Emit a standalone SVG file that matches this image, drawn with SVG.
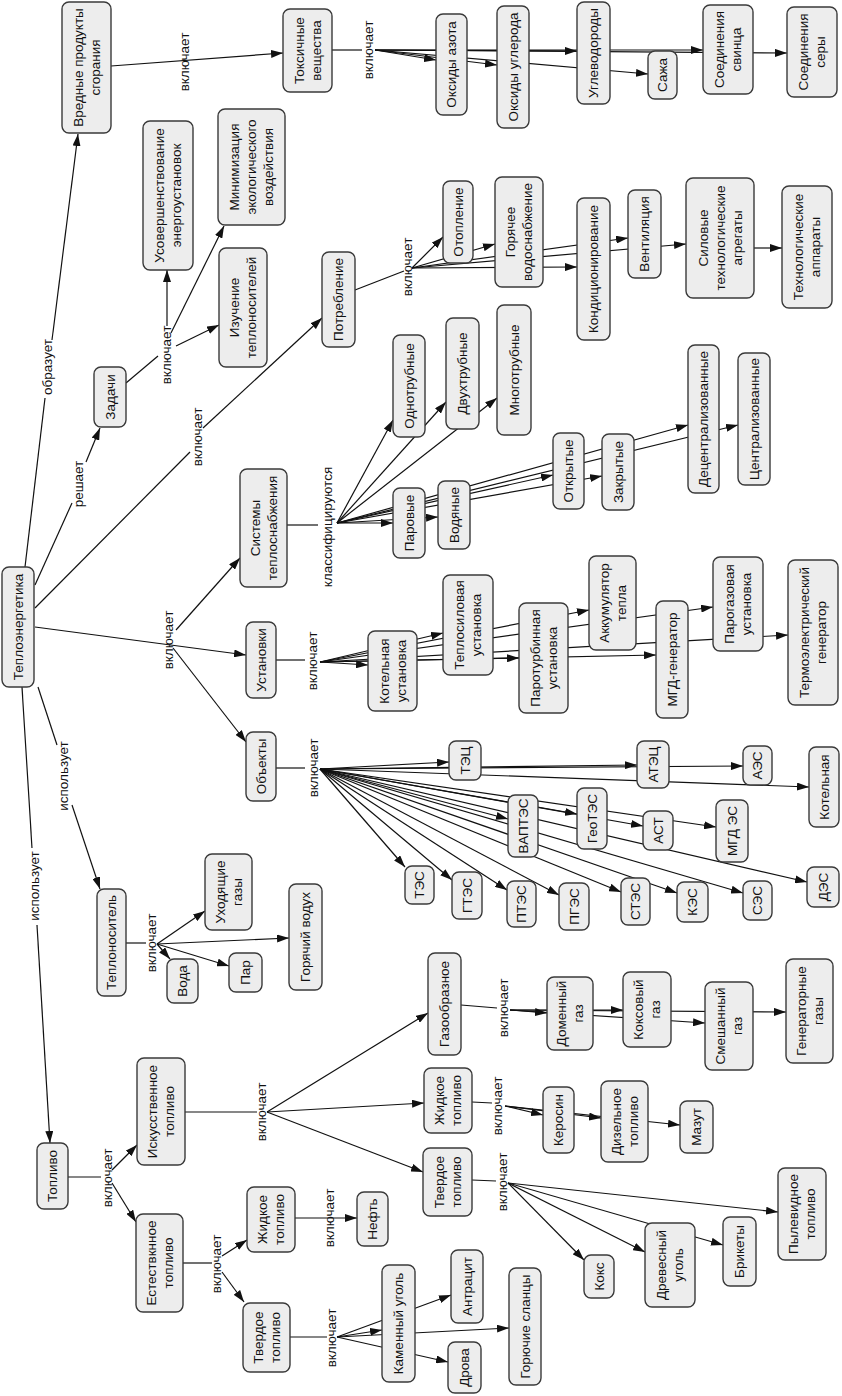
<svg xmlns="http://www.w3.org/2000/svg" width="842" height="1396" viewBox="0 0 842 1396">
<style>
.n rect{fill:#ededed;stroke:#3a3a3a;stroke-width:1.4}
text{font-family:"Liberation Sans",Arial,sans-serif;font-size:13.5px;text-anchor:middle;fill:#111}
.c path{fill:none;stroke:#111;stroke-width:1.2}
.c path.a{marker-end:url(#ah)}
</style>
<defs>
<marker id="ah" markerWidth="12" markerHeight="8" refX="12" refY="4" orient="auto" markerUnits="userSpaceOnUse"><path d="M0,0 L12,4 L0,8 z" fill="#111"/></marker>
</defs>
<rect width="842" height="1396" fill="#fff"/>
<g id="connectors" class="c">
<path class="a" d="M111,66 L283,53"/>
<path d="M25,567 L45,398"/><path class="a" d="M52,340 L78,134"/>
<path d="M35,585 L72,503"/><path class="a" d="M86,462 L100,428"/>
<path d="M126,383 L158,356"/>
<path class="a" d="M167,326 L167,270"/>
<path class="a" d="M171,333 L224,226"/>
<path class="a" d="M176,346 L219,325"/>
<path d="M35,608 L190,452"/><path class="a" d="M203,428 L322,318"/>
<path d="M355,290 L404,271"/>
<path class="a" d="M412,268 L443,237"/>
<path class="a" d="M412,268 L495,244"/>
<path class="a" d="M412,268 L577,267"/>
<path class="a" d="M412,268 L628,238"/>
<path class="a" d="M412,268 L686,244"/>
<path class="a" d="M754,248 L782,248"/>
<path class="a" d="M35,627 L246,655"/>
<path class="a" d="M176,630 L240,558"/>
<path class="a" d="M173,648 L246,742"/>
<path d="M287,525 L318,525"/>
<path class="a" d="M337,523 L393,420"/>
<path class="a" d="M337,523 L446,402"/>
<path class="a" d="M337,523 L497,398"/>
<path class="a" d="M337,523 L393,523"/>
<path class="a" d="M337,523 L438,517"/>
<path class="a" d="M337,523 L553,475"/>
<path class="a" d="M337,523 L602,476"/>
<path class="a" d="M337,523 L688,425"/>
<path class="a" d="M337,523 L738,425"/>
<path d="M276,660 L305,660"/>
<path class="a" d="M320,662 L368,665"/>
<path class="a" d="M320,662 L443,633"/>
<path class="a" d="M320,662 L519,658"/>
<path class="a" d="M320,662 L589,610"/>
<path class="a" d="M320,662 L656,655"/>
<path class="a" d="M320,662 L713,607"/>
<path class="a" d="M320,662 L788,635"/>
<path d="M276,768 L305,768"/>
<path class="a" d="M320,769 L449,762"/>
<path class="a" d="M320,769 L637,765"/>
<path class="a" d="M320,769 L743,766"/>
<path class="a" d="M320,769 L809,787"/>
<path class="a" d="M320,769 L508,819"/>
<path class="a" d="M320,769 L577,814"/>
<path class="a" d="M320,769 L643,826"/>
<path class="a" d="M320,769 L716,827"/>
<path class="a" d="M320,769 L807,882"/>
<path class="a" d="M320,769 L405,867"/>
<path class="a" d="M320,769 L452,880"/>
<path class="a" d="M320,769 L507,890"/>
<path class="a" d="M320,769 L559,895"/>
<path class="a" d="M320,769 L621,892"/>
<path class="a" d="M320,769 L677,893"/>
<path class="a" d="M320,769 L743,893"/>
<path d="M38,687 L57,745"/><path class="a" d="M72,805 L100,889"/>
<path d="M22,687 L32,848"/><path class="a" d="M37,925 L50,1143"/>
<path d="M126,943 L146,943"/>
<path class="a" d="M157,944 L205,911"/>
<path class="a" d="M157,944 L289,938"/>
<path class="a" d="M157,944 L170,959"/>
<path class="a" d="M157,944 L229,966"/>
<path d="M68,1177 L101,1177"/>
<path class="a" d="M112,1170 L137,1145"/>
<path class="a" d="M112,1183 L136,1222"/>
<path d="M183,1263 L212,1263"/>
<path class="a" d="M222,1256 L247,1240"/>
<path class="a" d="M222,1272 L244,1302"/>
<path class="a" d="M295,1218 L357,1218"/>
<path d="M290,1337 L327,1337"/>
<path class="a" d="M337,1337 L382,1330"/>
<path class="a" d="M337,1337 L451,1295"/>
<path class="a" d="M337,1337 L509,1328"/>
<path class="a" d="M337,1337 L448,1362"/>
<path d="M185,1112 L257,1112"/>
<path class="a" d="M267,1112 L428,1013"/>
<path class="a" d="M267,1112 L424,1103"/>
<path class="a" d="M267,1112 L423,1172"/>
<path d="M461,1005 L497,1008"/>
<path class="a" d="M510,1010 L547,1013"/>
<path class="a" d="M510,1010 L623,1010"/>
<path class="a" d="M510,1010 L705,1023"/>
<path class="a" d="M510,1010 L786,1012"/>
<path d="M472,1102 L492,1103"/>
<path class="a" d="M505,1106 L543,1115"/>
<path class="a" d="M505,1106 L601,1118"/>
<path class="a" d="M505,1106 L680,1125"/>
<path d="M472,1180 L496,1181"/>
<path class="a" d="M508,1183 L584,1260"/>
<path class="a" d="M508,1183 L645,1252"/>
<path class="a" d="M508,1183 L723,1245"/>
<path class="a" d="M508,1183 L778,1212"/>
<path d="M332,50 L362,50"/>
<path class="a" d="M375,50 L436,60"/>
<path class="a" d="M375,50 L497,65"/>
<path class="a" d="M375,50 L577,51"/>
<path class="a" d="M375,50 L648,74"/>
<path class="a" d="M375,50 L703,50"/>
<path class="a" d="M375,50 L787,53"/>
</g>
<g id="labels">
<text transform="translate(184,62) rotate(-90)" y="4.7">включает</text>
<text transform="translate(47,367) rotate(-90)" y="4.7">образует</text>
<text transform="translate(78,484) rotate(-90)" y="4.7">решает</text>
<text transform="translate(166,355) rotate(-90)" y="4.7">включает</text>
<text transform="translate(197,437) rotate(-90)" y="4.7">включает</text>
<text transform="translate(407,267) rotate(-90)" y="4.7">включает</text>
<text transform="translate(168,640) rotate(-90)" y="4.7">включает</text>
<text transform="translate(327,527) rotate(-90)" y="4.7">классифицируются</text>
<text transform="translate(312,661) rotate(-90)" y="4.7">включает</text>
<text transform="translate(313,768) rotate(-90)" y="4.7">включает</text>
<text transform="translate(63,776) rotate(-90)" y="4.7">использует</text>
<text transform="translate(34,886) rotate(-90)" y="4.7">использует</text>
<text transform="translate(151,943) rotate(-90)" y="4.7">включает</text>
<text transform="translate(107,1178) rotate(-90)" y="4.7">включает</text>
<text transform="translate(216,1264) rotate(-90)" y="4.7">включает</text>
<text transform="translate(329,1218) rotate(-90)" y="4.7">включает</text>
<text transform="translate(331,1338) rotate(-90)" y="4.7">включает</text>
<text transform="translate(261,1112) rotate(-90)" y="4.7">включает</text>
<text transform="translate(503,1008) rotate(-90)" y="4.7">включает</text>
<text transform="translate(497,1106) rotate(-90)" y="4.7">включает</text>
<text transform="translate(502,1182) rotate(-90)" y="4.7">включает</text>
<text transform="translate(368,50) rotate(-90)" y="4.7">включает</text>
</g>
<g id="n_vred" class="n"><rect x="62" y="2" width="49" height="131" rx="7"/><text transform="translate(86.5,67.5) rotate(-90)"><tspan x="0" y="-3.8">Вредные продукты</tspan><tspan x="0" y="13.2">сгорания</tspan></text></g>
<g id="n_toks" class="n"><rect x="283" y="9" width="49" height="83" rx="7"/><text transform="translate(307.5,50.5) rotate(-90)"><tspan x="0" y="-3.8">Токсичные</tspan><tspan x="0" y="13.2">вещества</tspan></text></g>
<g id="n_azot" class="n"><rect x="436" y="14" width="31" height="101" rx="7"/><text transform="translate(451.5,64.5) rotate(-90)" y="4.7">Оксиды азота</text></g>
<g id="n_ugl" class="n"><rect x="497" y="6" width="32" height="122" rx="7"/><text transform="translate(513,67) rotate(-90)" y="4.7">Оксиды углерода</text></g>
<g id="n_uglev" class="n"><rect x="577" y="2" width="33" height="102" rx="7"/><text transform="translate(593.5,53) rotate(-90)" y="4.7">Углеводороды</text></g>
<g id="n_saja" class="n"><rect x="648" y="51" width="29" height="48" rx="7"/><text transform="translate(662.5,75) rotate(-90)" y="4.7">Сажа</text></g>
<g id="n_svin" class="n"><rect x="703" y="5" width="50" height="89" rx="7"/><text transform="translate(728,49.5) rotate(-90)"><tspan x="0" y="-3.8">Соединения</tspan><tspan x="0" y="13.2">свинца</tspan></text></g>
<g id="n_sera" class="n"><rect x="787" y="7" width="50" height="90" rx="7"/><text transform="translate(812,52) rotate(-90)"><tspan x="0" y="-3.8">Соединения</tspan><tspan x="0" y="13.2">серы</tspan></text></g>
<g id="n_usov" class="n"><rect x="143" y="121" width="50" height="149" rx="7"/><text transform="translate(168,195.5) rotate(-90)"><tspan x="0" y="-3.8">Усовершенствование</tspan><tspan x="0" y="13.2">энергоустановок</tspan></text></g>
<g id="n_minim" class="n"><rect x="218" y="109" width="67" height="116" rx="7"/><text transform="translate(251.5,167) rotate(-90)"><tspan x="0" y="-12.3">Минимизация</tspan><tspan x="0" y="4.7">экологического</tspan><tspan x="0" y="21.7">воздействия</tspan></text></g>
<g id="n_izuch" class="n"><rect x="219" y="248" width="48" height="119" rx="7"/><text transform="translate(243,307.5) rotate(-90)"><tspan x="0" y="-3.8">Изучение</tspan><tspan x="0" y="13.2">теплоносителей</tspan></text></g>
<g id="n_zad" class="n"><rect x="94" y="367" width="32" height="60" rx="7"/><text transform="translate(110,397) rotate(-90)" y="4.7">Задачи</text></g>
<g id="n_te" class="n"><rect x="2" y="567" width="32" height="120" rx="7"/><text transform="translate(18,627) rotate(-90)" y="4.7">Теплоэнергетика</text></g>
<g id="n_potr" class="n"><rect x="322" y="252" width="33" height="95" rx="7"/><text transform="translate(338.5,299.5) rotate(-90)" y="4.7">Потребление</text></g>
<g id="n_otop" class="n"><rect x="443" y="181" width="30" height="82" rx="7"/><text transform="translate(458,222) rotate(-90)" y="4.7">Отопление</text></g>
<g id="n_gvs" class="n"><rect x="495" y="177" width="48" height="110" rx="7"/><text transform="translate(519,232) rotate(-90)"><tspan x="0" y="-3.8">Горячее</tspan><tspan x="0" y="13.2">водоснабжение</tspan></text></g>
<g id="n_kond" class="n"><rect x="577" y="198" width="33" height="142" rx="7"/><text transform="translate(593.5,269) rotate(-90)" y="4.7">Кондиционирование</text></g>
<g id="n_vent" class="n"><rect x="628" y="190" width="33" height="88" rx="7"/><text transform="translate(644.5,234) rotate(-90)" y="4.7">Вентиляция</text></g>
<g id="n_silov" class="n"><rect x="686" y="178" width="68" height="120" rx="7"/><text transform="translate(720,238) rotate(-90)"><tspan x="0" y="-12.3">Силовые</tspan><tspan x="0" y="4.7">технологические</tspan><tspan x="0" y="21.7">агрегаты</tspan></text></g>
<g id="n_tehap" class="n"><rect x="782" y="186" width="50" height="122" rx="7"/><text transform="translate(807,247) rotate(-90)"><tspan x="0" y="-3.8">Технологические</tspan><tspan x="0" y="13.2">аппараты</tspan></text></g>
<g id="n_sist" class="n"><rect x="240" y="469" width="47" height="118" rx="7"/><text transform="translate(263.5,528) rotate(-90)"><tspan x="0" y="-3.8">Системы</tspan><tspan x="0" y="13.2">теплоснабжения</tspan></text></g>
<g id="n_ust" class="n"><rect x="246" y="622" width="30" height="76" rx="7"/><text transform="translate(261,660) rotate(-90)" y="4.7">Установки</text></g>
<g id="n_odno" class="n"><rect x="393" y="335" width="32" height="102" rx="7"/><text transform="translate(409,386) rotate(-90)" y="4.7">Однотрубные</text></g>
<g id="n_dvuh" class="n"><rect x="446" y="318" width="33" height="111" rx="7"/><text transform="translate(462.5,373.5) rotate(-90)" y="4.7">Двухтрубные</text></g>
<g id="n_mnogo" class="n"><rect x="497" y="305" width="34" height="130" rx="7"/><text transform="translate(514,370) rotate(-90)" y="4.7">Многотрубные</text></g>
<g id="n_parovye" class="n"><rect x="393" y="488" width="32" height="70" rx="7"/><text transform="translate(409,523) rotate(-90)" y="4.7">Паровые</text></g>
<g id="n_vodyan" class="n"><rect x="438" y="481" width="32" height="68" rx="7"/><text transform="translate(454,515) rotate(-90)" y="4.7">Водяные</text></g>
<g id="n_otkr" class="n"><rect x="553" y="433" width="31" height="76" rx="7"/><text transform="translate(568.5,471) rotate(-90)" y="4.7">Открытые</text></g>
<g id="n_zakr" class="n"><rect x="602" y="434" width="32" height="76" rx="7"/><text transform="translate(618,472) rotate(-90)" y="4.7">Закрытые</text></g>
<g id="n_decen" class="n"><rect x="688" y="345" width="31" height="148" rx="7"/><text transform="translate(703.5,419) rotate(-90)" y="4.7">Децентрализованные</text></g>
<g id="n_cent" class="n"><rect x="738" y="353" width="32" height="132" rx="7"/><text transform="translate(754,419) rotate(-90)" y="4.7">Централизованные</text></g>
<g id="n_kotu" class="n"><rect x="368" y="631" width="49" height="80" rx="7"/><text transform="translate(392.5,671) rotate(-90)"><tspan x="0" y="-3.8">Котельная</tspan><tspan x="0" y="13.2">установка</tspan></text></g>
<g id="n_teplosil" class="n"><rect x="443" y="575" width="50" height="100" rx="7"/><text transform="translate(468,625) rotate(-90)"><tspan x="0" y="-3.8">Теплосиловая</tspan><tspan x="0" y="13.2">установка</tspan></text></g>
<g id="n_parot" class="n"><rect x="519" y="603" width="49" height="110" rx="7"/><text transform="translate(543.5,658) rotate(-90)"><tspan x="0" y="-3.8">Паротурбинная</tspan><tspan x="0" y="13.2">установка</tspan></text></g>
<g id="n_akk" class="n"><rect x="589" y="556" width="47" height="94" rx="7"/><text transform="translate(612.5,603) rotate(-90)"><tspan x="0" y="-3.8">Аккумулятор</tspan><tspan x="0" y="13.2">тепла</tspan></text></g>
<g id="n_mgdg" class="n"><rect x="656" y="601" width="32" height="117" rx="7"/><text transform="translate(672,659.5) rotate(-90)" y="4.7">МГД-генератор</text></g>
<g id="n_parog" class="n"><rect x="713" y="557" width="50" height="94" rx="7"/><text transform="translate(738,604) rotate(-90)"><tspan x="0" y="-3.8">Парогазовая</tspan><tspan x="0" y="13.2">установка</tspan></text></g>
<g id="n_termo" class="n"><rect x="788" y="560" width="50" height="145" rx="7"/><text transform="translate(813,632.5) rotate(-90)"><tspan x="0" y="-3.8">Термоэлектрический</tspan><tspan x="0" y="13.2">генератор</tspan></text></g>
<g id="n_obj" class="n"><rect x="246" y="732" width="30" height="69" rx="7"/><text transform="translate(261,766.5) rotate(-90)" y="4.7">Объекты</text></g>
<g id="n_tec" class="n"><rect x="449" y="741" width="32" height="39" rx="7"/><text transform="translate(465,760.5) rotate(-90)" y="4.7">ТЭЦ</text></g>
<g id="n_atec" class="n"><rect x="637" y="741" width="32" height="47" rx="7"/><text transform="translate(653,764.5) rotate(-90)" y="4.7">АТЭЦ</text></g>
<g id="n_aes" class="n"><rect x="743" y="746" width="29" height="39" rx="7"/><text transform="translate(757.5,765.5) rotate(-90)" y="4.7">АЭС</text></g>
<g id="n_kotel" class="n"><rect x="809" y="747" width="30" height="80" rx="7"/><text transform="translate(824,787) rotate(-90)" y="4.7">Котельная</text></g>
<g id="n_vaptes" class="n"><rect x="508" y="795" width="30" height="62" rx="7"/><text transform="translate(523,826) rotate(-90)" y="4.7">ВАПТЭС</text></g>
<g id="n_geotes" class="n"><rect x="577" y="788" width="30" height="61" rx="7"/><text transform="translate(592,818.5) rotate(-90)" y="4.7">ГеоТЭС</text></g>
<g id="n_ast" class="n"><rect x="643" y="811" width="30" height="39" rx="7"/><text transform="translate(658,830.5) rotate(-90)" y="4.7">АСТ</text></g>
<g id="n_mgdes" class="n"><rect x="716" y="800" width="32" height="62" rx="7"/><text transform="translate(732,831) rotate(-90)" y="4.7">МГД ЭС</text></g>
<g id="n_des" class="n"><rect x="807" y="867" width="32" height="40" rx="7"/><text transform="translate(823,887) rotate(-90)" y="4.7">ДЭС</text></g>
<g id="n_tes" class="n"><rect x="405" y="866" width="29" height="38" rx="7"/><text transform="translate(419.5,885) rotate(-90)" y="4.7">ТЭС</text></g>
<g id="n_gtes" class="n"><rect x="452" y="872" width="30" height="47" rx="7"/><text transform="translate(467,895.5) rotate(-90)" y="4.7">ГТЭС</text></g>
<g id="n_ptes" class="n"><rect x="507" y="881" width="29" height="46" rx="7"/><text transform="translate(521.5,904) rotate(-90)" y="4.7">ПТЭС</text></g>
<g id="n_pges" class="n"><rect x="559" y="883" width="30" height="47" rx="7"/><text transform="translate(574,906.5) rotate(-90)" y="4.7">ПГЭС</text></g>
<g id="n_stes" class="n"><rect x="621" y="878" width="29" height="47" rx="7"/><text transform="translate(635.5,901.5) rotate(-90)" y="4.7">СТЭС</text></g>
<g id="n_kes" class="n"><rect x="677" y="882" width="31" height="40" rx="7"/><text transform="translate(692.5,902) rotate(-90)" y="4.7">КЭС</text></g>
<g id="n_ses" class="n"><rect x="743" y="881" width="29" height="39" rx="7"/><text transform="translate(757.5,900.5) rotate(-90)" y="4.7">СЭС</text></g>
<g id="n_tepl" class="n"><rect x="97" y="889" width="29" height="107" rx="7"/><text transform="translate(111.5,942.5) rotate(-90)" y="4.7">Теплоноситель</text></g>
<g id="n_uhod" class="n"><rect x="205" y="854" width="47" height="76" rx="7"/><text transform="translate(228.5,892) rotate(-90)"><tspan x="0" y="-3.8">Уходящие</tspan><tspan x="0" y="13.2">газы</tspan></text></g>
<g id="n_voda" class="n"><rect x="167" y="959" width="31" height="44" rx="7"/><text transform="translate(182.5,981) rotate(-90)" y="4.7">Вода</text></g>
<g id="n_par" class="n"><rect x="229" y="953" width="33" height="39" rx="7"/><text transform="translate(245.5,972.5) rotate(-90)" y="4.7">Пар</text></g>
<g id="n_gorvoz" class="n"><rect x="289" y="884" width="33" height="106" rx="7"/><text transform="translate(305.5,937) rotate(-90)" y="4.7">Горячий водух</text></g>
<g id="n_gazoobr" class="n"><rect x="428" y="953" width="33" height="102" rx="7"/><text transform="translate(444.5,1004) rotate(-90)" y="4.7">Газообразное</text></g>
<g id="n_domen" class="n"><rect x="547" y="977" width="46" height="73" rx="7"/><text transform="translate(570,1013.5) rotate(-90)"><tspan x="0" y="-3.8">Доменный</tspan><tspan x="0" y="13.2">газ</tspan></text></g>
<g id="n_koksgaz" class="n"><rect x="623" y="972" width="48" height="75" rx="7"/><text transform="translate(647,1009.5) rotate(-90)"><tspan x="0" y="-3.8">Коксовый</tspan><tspan x="0" y="13.2">газ</tspan></text></g>
<g id="n_smesh" class="n"><rect x="705" y="982" width="48" height="88" rx="7"/><text transform="translate(729,1026) rotate(-90)"><tspan x="0" y="-3.8">Смешанный</tspan><tspan x="0" y="13.2">газ</tspan></text></g>
<g id="n_gener" class="n"><rect x="786" y="959" width="47" height="104" rx="7"/><text transform="translate(809.5,1011) rotate(-90)"><tspan x="0" y="-3.8">Генераторные</tspan><tspan x="0" y="13.2">газы</tspan></text></g>
<g id="n_topl" class="n"><rect x="37" y="1143" width="31" height="66" rx="7"/><text transform="translate(52.5,1176) rotate(-90)" y="4.7">Топливо</text></g>
<g id="n_iskus" class="n"><rect x="137" y="1058" width="48" height="107" rx="7"/><text transform="translate(161,1111.5) rotate(-90)"><tspan x="0" y="-3.8">Искусственное</tspan><tspan x="0" y="13.2">топливо</tspan></text></g>
<g id="n_estes" class="n"><rect x="136" y="1214" width="47" height="98" rx="7"/><text transform="translate(159.5,1263) rotate(-90)"><tspan x="0" y="-3.8">Естествкнное</tspan><tspan x="0" y="13.2">топливо</tspan></text></g>
<g id="n_jid_n" class="n"><rect x="247" y="1187" width="48" height="65" rx="7"/><text transform="translate(271,1219.5) rotate(-90)"><tspan x="0" y="-3.8">Жидкое</tspan><tspan x="0" y="13.2">топливо</tspan></text></g>
<g id="n_tv_n" class="n"><rect x="243" y="1303" width="47" height="69" rx="7"/><text transform="translate(266.5,1337.5) rotate(-90)"><tspan x="0" y="-3.8">Твердое</tspan><tspan x="0" y="13.2">топливо</tspan></text></g>
<g id="n_neft" class="n"><rect x="357" y="1192" width="31" height="54" rx="7"/><text transform="translate(372.5,1219) rotate(-90)" y="4.7">Нефть</text></g>
<g id="n_kamen" class="n"><rect x="382" y="1265" width="33" height="117" rx="7"/><text transform="translate(398.5,1323.5) rotate(-90)" y="4.7">Каменный уголь</text></g>
<g id="n_antr" class="n"><rect x="451" y="1250" width="32" height="73" rx="7"/><text transform="translate(467,1286.5) rotate(-90)" y="4.7">Антрацит</text></g>
<g id="n_drova" class="n"><rect x="448" y="1342" width="33" height="51" rx="7"/><text transform="translate(464.5,1367.5) rotate(-90)" y="4.7">Дрова</text></g>
<g id="n_goruch" class="n"><rect x="509" y="1268" width="32" height="117" rx="7"/><text transform="translate(525,1326.5) rotate(-90)" y="4.7">Горючие сланцы</text></g>
<g id="n_jid_a" class="n"><rect x="424" y="1068" width="48" height="65" rx="7"/><text transform="translate(448,1100.5) rotate(-90)"><tspan x="0" y="-3.8">Жидкое</tspan><tspan x="0" y="13.2">топливо</tspan></text></g>
<g id="n_tv_a" class="n"><rect x="423" y="1148" width="49" height="68" rx="7"/><text transform="translate(447.5,1182) rotate(-90)"><tspan x="0" y="-3.8">Твердое</tspan><tspan x="0" y="13.2">топливо</tspan></text></g>
<g id="n_keros" class="n"><rect x="543" y="1087" width="31" height="66" rx="7"/><text transform="translate(558.5,1120) rotate(-90)" y="4.7">Керосин</text></g>
<g id="n_dizel" class="n"><rect x="601" y="1081" width="47" height="81" rx="7"/><text transform="translate(624.5,1121.5) rotate(-90)"><tspan x="0" y="-3.8">Дизельное</tspan><tspan x="0" y="13.2">топливо</tspan></text></g>
<g id="n_mazut" class="n"><rect x="680" y="1101" width="33" height="52" rx="7"/><text transform="translate(696.5,1127) rotate(-90)" y="4.7">Мазут</text></g>
<g id="n_pylev" class="n"><rect x="778" y="1168" width="48" height="92" rx="7"/><text transform="translate(802,1214) rotate(-90)"><tspan x="0" y="-3.8">Пылевидное</tspan><tspan x="0" y="13.2">топливо</tspan></text></g>
<g id="n_brik" class="n"><rect x="723" y="1217" width="33" height="69" rx="7"/><text transform="translate(739.5,1251.5) rotate(-90)" y="4.7">Брикеты</text></g>
<g id="n_drev" class="n"><rect x="645" y="1223" width="50" height="84" rx="7"/><text transform="translate(670,1265) rotate(-90)"><tspan x="0" y="-3.8">Древесный</tspan><tspan x="0" y="13.2">уголь</tspan></text></g>
<g id="n_koks" class="n"><rect x="584" y="1255" width="30" height="43" rx="7"/><text transform="translate(599,1276.5) rotate(-90)" y="4.7">Кокс</text></g>
</svg>
